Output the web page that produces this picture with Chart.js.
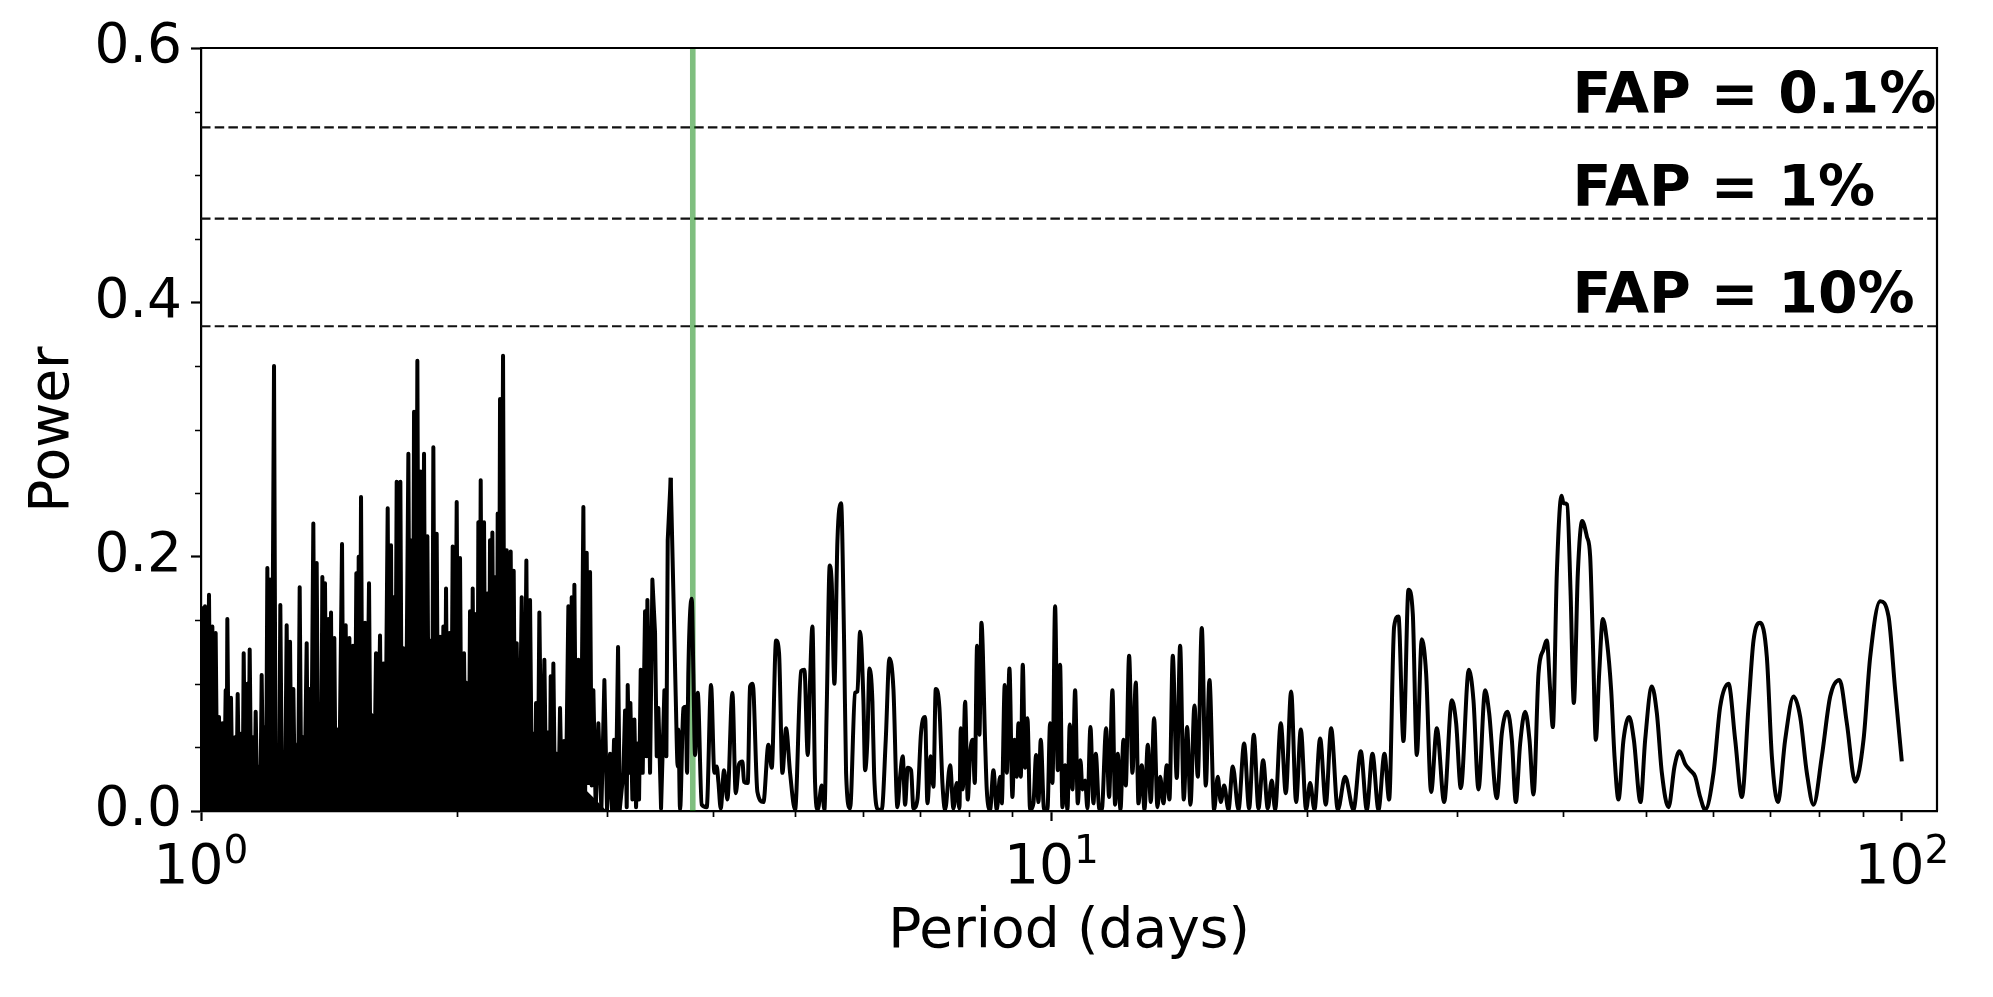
<!DOCTYPE html>
<html>
<head>
<meta charset="utf-8">
<title>Periodogram</title>
<script src="https://cdn.jsdelivr.net/npm/chart.js@4.4.0/dist/chart.umd.min.js"></script>
<style>
  html, body { margin: 0; padding: 0; background: #fff; }
  #wrap { width: 1993px; height: 997px; position: relative; }
</style>
</head>
<body>
<div id="wrap"><canvas id="periodogram"></canvas></div>
<script>
// periodogram, one segment per stretch of the period axis
// period in days, power unitless
const periodA = [
  1.0000, 1.0054, 1.0109, 1.0164, 1.0219, 1.0265, 1.0312, 1.0358, 1.0405, 1.0452,
  1.0499, 1.0547, 1.0595, 1.0643, 1.0691, 1.0720, 1.0739, 1.0788, 1.0846, 1.0895,
  1.0964, 1.1004, 1.1044, 1.1094, 1.1164, 1.1194, 1.1225, 1.1276, 1.1337, 1.1368,
  1.1409, 1.1460, 1.1523, 1.1554, 1.1596, 1.1648, 1.1711, 1.1743, 1.1785, 1.1839,
  1.1892, 1.1925, 1.1968, 1.2011, 1.2054, 1.2109, 1.2186, 1.2241, 1.2307, 1.2352,
  1.2396, 1.2453, 1.2509, 1.2554, 1.2611, 1.2668, 1.2726, 1.2783, 1.2841, 1.2899,
  1.2957, 1.3004, 1.3063, 1.3122, 1.3181, 1.3229, 1.3313, 1.3361, 1.3409, 1.3470,
  1.3555, 1.3617, 1.3678, 1.3740, 1.3802, 1.3840, 1.3890, 1.3953, 1.3990, 1.4054,
  1.4117, 1.4168, 1.4220, 1.4271, 1.4348, 1.4400, 1.4479, 1.4531, 1.4650, 1.4716,
  1.4796, 1.4863, 1.4944, 1.5011, 1.5092, 1.5161, 1.5229, 1.5271, 1.5326, 1.5368,
  1.5423, 1.5493, 1.5591, 1.5648, 1.5761, 1.5832, 1.5904, 1.5976, 1.6062, 1.6121,
  1.6237, 1.6311, 1.6385, 1.6459, 1.6578, 1.6653, 1.6728, 1.6789, 1.6834, 1.6910,
  1.6987, 1.7064, 1.7157, 1.7234, 1.7297, 1.7375, 1.7454, 1.7533, 1.7612, 1.7692,
  1.7740, 1.7804, 1.7885
];
const powerA = [
  0.161, 0.001, 0.161, 0.003, 0.170, 0.003, 0.145, 0.002, 0.140, 0.001,
  0.074, 0.001, 0.069, 0.001, 0.095, 0.030, 0.151, 0.001, 0.089, 0.001,
  0.058, 0.001, 0.092, 0.001, 0.061, 0.001, 0.124, 0.001, 0.100, 0.001,
  0.127, 0.001, 0.058, 0.001, 0.078, 0.001, 0.035, 0.001, 0.107, 0.001,
  0.066, 0.001, 0.191, 0.009, 0.182, 0.001, 0.350, 0.001, 0.032, 0.001,
  0.162, 0.001, 0.032, 0.001, 0.146, 0.003, 0.133, 0.001, 0.096, 0.001,
  0.022, 0.001, 0.176, 0.001, 0.058, 0.001, 0.132, 0.001, 0.096, 0.001,
  0.226, 0.001, 0.195, 0.001, 0.082, 0.001, 0.184, 0.001, 0.179, 0.001,
  0.151, 0.001, 0.156, 0.001, 0.136, 0.001, 0.043, 0.001, 0.210, 0.001,
  0.146, 0.001, 0.136, 0.001, 0.130, 0.001, 0.187, 0.001, 0.200, 0.009,
  0.247, 0.001, 0.148, 0.001, 0.179, 0.001, 0.075, 0.001, 0.124, 0.001,
  0.138, 0.001, 0.116, 0.001, 0.238, 0.001, 0.209, 0.001, 0.168, 0.001,
  0.259, 0.001, 0.259, 0.001, 0.128, 0.001, 0.120, 0.281, 0.001, 0.213,
  0.001, 0.314, 0.001
];

const periodB = [
  1.7965, 1.8046, 1.8128, 1.8193, 1.8292, 1.8375, 1.8458, 1.8541, 1.8642, 1.8693,
  1.8760, 1.8845, 1.8930, 1.9016, 1.9102, 1.9171, 1.9275, 1.9345, 1.9415, 1.9503,
  1.9591, 1.9679, 1.9768, 1.9876, 1.9984, 2.0074, 2.0165, 2.0256, 2.0385, 2.0477,
  2.0588, 2.0644, 2.0718, 2.0793, 2.0869, 2.0963, 2.1058, 2.1134, 2.1191, 2.1249,
  2.1326, 2.1422, 2.1519, 2.1616, 2.1714, 2.1793, 2.1871, 2.1951, 2.2010, 2.2110,
  2.2210, 2.2270, 2.2330, 2.2391, 2.2472, 2.2553, 2.2655, 2.2758, 2.2881, 2.3005,
  2.3130, 2.3235, 2.3319, 2.3424, 2.3509, 2.3658, 2.3830, 2.3981, 2.4133, 2.4242,
  2.4374, 2.4506, 2.4639, 2.4706, 2.4773, 2.4885, 2.4997, 2.5156, 2.5338, 2.5476,
  2.5614, 2.5707, 2.5777, 2.5870, 2.5963, 2.6081, 2.6199, 2.6317, 2.6436, 2.6580,
  2.6724, 2.6845, 2.7040, 2.7162, 2.7285, 2.7384, 2.7483, 2.7632, 2.7782, 2.7958,
  2.8161, 2.8288, 2.8416, 2.8545, 2.8674, 2.8804, 2.8934, 2.9117, 2.9328, 2.9568,
  2.9809, 3.0025, 3.0270, 3.0434, 3.0599, 3.0738, 3.0933, 3.1072, 3.1382
];
const powerB = [
  0.354, 0.001, 0.267, 0.001, 0.281, 0.001, 0.216, 0.001, 0.134, 0.001,
  0.286, 0.001, 0.218, 0.001, 0.137, 0.001, 0.145, 0.001, 0.175, 0.001,
  0.140, 0.001, 0.208, 0.001, 0.243, 0.001, 0.199, 0.001, 0.124, 0.001,
  0.095, 0.001, 0.157, 0.001, 0.175, 0.001, 0.155, 0.001, 0.227, 0.001,
  0.260, 0.001, 0.227, 0.001, 0.171, 0.001, 0.213, 0.001, 0.219, 0.001,
  0.184, 0.001, 0.234, 0.001, 0.324, 0.035, 0.358, 0.001, 0.205, 0.001,
  0.204, 0.001, 0.189, 0.001, 0.132, 0.001, 0.168, 0.001, 0.197, 0.001,
  0.166, 0.001, 0.061, 0.001, 0.085, 0.001, 0.156, 0.001, 0.119, 0.001,
  0.062, 0.001, 0.106, 0.001, 0.116, 0.001, 0.045, 0.001, 0.081, 0.001,
  0.055, 0.001, 0.161, 0.001, 0.168, 0.001, 0.178, 0.001, 0.119, 0.001,
  0.239, 0.001, 0.203, 0.022, 0.188, 0.020, 0.095, 0.001, 0.069, 0.001,
  0.103, 0.001, 0.045, 0.001, 0.056, 0.001, 0.129, 0.001, 0.030
];

const periodC = [
  3.1525, 3.1667, 3.1753, 3.1897, 3.1983, 3.2157, 3.2331, 3.2478, 3.2595, 3.2743,
  3.2891, 3.3069, 3.3279, 3.3399, 3.3490, 3.3733, 3.3946, 3.4192, 3.4347, 3.4502,
  3.4753, 3.5068, 3.5258, 3.5386, 3.5674, 3.5933, 3.6161, 3.6357, 3.6423, 3.6587,
  3.6919, 3.7153, 3.7287, 3.7422, 3.7762, 3.7932, 3.8104, 3.8380, 3.8798, 3.9327,
  3.9791, 4.0152, 4.0406, 4.0589, 4.0846, 4.1217, 4.1591, 4.2158, 4.2540, 4.2926,
  4.3315, 4.3511, 4.3945, 4.4224, 4.4544, 4.5111, 4.5850, 4.6475, 4.6896, 4.7450,
  4.7837, 4.8271, 4.8752, 4.9283, 4.9955, 5.0773, 5.1234, 5.1698, 5.2026, 5.2356,
  5.2735, 5.3117, 5.3696, 5.4085, 5.4428, 5.4872, 5.5169, 5.5569, 5.6022, 5.6582
];
const powerC = [
  0.079, 0.003, 0.099, 0.030, 0.085, 0.009, 0.072, 0.003, 0.053, 0.009,
  0.111, 0.030, 0.157, 0.043, 0.166, 0.030, 0.182, 0.140, 0.043, 0.081,
  0.002, 0.095, 0.043, 0.213, 0.262, 0.171, 0.090, 0.035, 0.064, 0.001,
  0.081, 0.082, 0.030, 0.111, 0.167, 0.108, 0.044, 0.093, 0.005, 0.003,
  0.099, 0.030, 0.035, 0.023, 0.002, 0.032, 0.009, 0.093, 0.014, 0.037,
  0.039, 0.023, 0.022, 0.098, 0.100, 0.015, 0.007, 0.052, 0.034, 0.134,
  0.124, 0.030, 0.065, 0.030, 0.001, 0.110, 0.111, 0.044, 0.103, 0.145,
  0.022, 0.001, 0.020, 0.001, 0.082, 0.193, 0.179, 0.100, 0.212, 0.242
];

const periodD = [
  5.7044, 5.7353, 5.7978, 5.8768, 5.9141, 5.9569, 6.0110, 6.0381, 6.0764, 6.1094,
  6.1593, 6.1871, 6.2602, 6.3169, 6.3857, 6.4494, 6.5197, 6.5907, 6.6385, 6.6866,
  6.7289, 6.7777, 6.8392, 6.8825, 6.9574, 7.0269, 7.1034, 7.1484, 7.2132, 7.2655,
  7.3116, 7.3845, 7.4448, 7.4987, 7.6010, 7.6699, 7.7394, 7.7955, 7.8237, 7.8662,
  7.9161, 7.9735, 8.0240, 8.0822, 8.1260, 8.1775, 8.2294, 8.2740, 8.3566, 8.3944,
  8.4705, 8.5473, 8.6248, 8.7030, 8.7424, 8.8137, 8.8615, 8.9257, 8.9985, 9.0474,
  9.1048, 9.1460, 9.2039, 9.2539, 9.3126, 9.3716, 9.4395, 9.5251, 9.5942, 9.6550,
  9.7162, 9.8043, 9.8932, 9.9649, 10.028, 10.101
];
const powerD = [
  0.134, 0.030, 0.002, 0.093, 0.094, 0.141, 0.087, 0.032, 0.056, 0.112,
  0.086, 0.030, 0.001, 0.001, 0.056, 0.120, 0.096, 0.003, 0.027, 0.043,
  0.005, 0.034, 0.032, 0.002, 0.009, 0.062, 0.074, 0.006, 0.043, 0.019,
  0.096, 0.081, 0.022, 0.001, 0.036, 0.002, 0.022, 0.002, 0.065, 0.017,
  0.086, 0.009, 0.045, 0.056, 0.022, 0.130, 0.060, 0.148, 0.055, 0.017,
  0.001, 0.032, 0.001, 0.027, 0.006, 0.099, 0.030, 0.112, 0.011, 0.056,
  0.027, 0.069, 0.027, 0.115, 0.034, 0.073, 0.001, 0.006, 0.044, 0.007,
  0.056, 0.001, 0.001, 0.069, 0.022, 0.161
];

const periodE = [
  10.174, 10.238, 10.303, 10.378, 10.444, 10.510, 10.586, 10.663, 10.740, 10.818,
  10.877, 10.956, 11.025, 11.115, 11.206, 11.277, 11.379, 11.461, 11.597, 11.691,
  11.797, 11.883, 11.969, 12.056, 12.154, 12.231, 12.342, 12.454, 12.567, 12.658,
  12.773, 12.865, 12.982, 13.088, 13.206, 13.326, 13.423, 13.544, 13.667, 13.766,
  13.891, 14.042, 14.170, 14.311, 14.441, 14.572, 14.731, 14.864, 15.026, 15.190,
  15.341, 15.536, 15.691, 15.819, 15.963, 16.151, 16.342, 16.595, 16.851, 17.081,
  17.298, 17.518, 17.741, 17.966, 18.162
];
const powerE = [
  0.032, 0.115, 0.003, 0.036, 0.001, 0.068, 0.017, 0.095, 0.006, 0.040,
  0.017, 0.024, 0.002, 0.066, 0.006, 0.045, 0.002, 0.001, 0.065, 0.011,
  0.095, 0.005, 0.045, 0.001, 0.056, 0.020, 0.122, 0.030, 0.101, 0.006,
  0.036, 0.001, 0.052, 0.007, 0.073, 0.003, 0.027, 0.006, 0.036, 0.009,
  0.122, 0.026, 0.130, 0.009, 0.066, 0.005, 0.083, 0.027, 0.144, 0.020,
  0.103, 0.001, 0.027, 0.007, 0.020, 0.001, 0.035, 0.001, 0.053, 0.002,
  0.060, 0.002, 0.040, 0.002, 0.024
];

const periodF = [
  18.327, 18.610, 18.864, 19.138, 19.399, 19.646, 19.931, 20.148, 20.386, 20.701,
  21.022, 21.328, 21.716, 22.151, 22.657, 23.111, 23.490, 23.853, 24.244, 24.641,
  24.954, 25.295, 25.593, 25.942, 26.296, 26.606, 26.896, 27.262, 27.584, 27.960,
  28.393, 28.962, 29.570, 29.919, 30.299, 30.963, 31.356, 31.784, 32.363
];
const powerF = [
  0.001, 0.069, 0.014, 0.094, 0.007, 0.064, 0.001, 0.022, 0.001, 0.057,
  0.005, 0.065, 0.001, 0.027, 0.001, 0.047, 0.001, 0.045, 0.001, 0.045,
  0.009, 0.145, 0.153, 0.055, 0.174, 0.155, 0.044, 0.135, 0.108, 0.015,
  0.065, 0.007, 0.087, 0.069, 0.018, 0.111, 0.087, 0.017, 0.095
];

const periodG = [
  32.716, 33.403, 33.858, 34.382, 34.788, 35.166, 35.581, 36.067, 36.492, 36.890,
  37.393, 37.902, 38.246, 38.593, 38.873, 39.296, 39.796, 40.012, 40.411, 40.777,
  41.147, 41.595, 42.086, 42.621, 43.008, 43.320, 43.673, 44.069, 44.509, 44.994,
  45.524, 45.937, 46.437, 47.070, 47.798, 48.406, 49.288, 49.915, 50.824, 51.517,
  52.219, 53.171, 54.041, 54.778, 55.625, 56.383, 57.152, 57.931, 58.720
];
const powerG = [
  0.077, 0.010, 0.061, 0.078, 0.056, 0.007, 0.053, 0.078, 0.056, 0.013,
  0.108, 0.127, 0.134, 0.095, 0.066, 0.187, 0.248, 0.242, 0.241, 0.174,
  0.085, 0.187, 0.228, 0.216, 0.200, 0.134, 0.056, 0.108, 0.151, 0.134,
  0.095, 0.043, 0.009, 0.056, 0.074, 0.056, 0.007, 0.056, 0.098, 0.077,
  0.030, 0.003, 0.035, 0.047, 0.037, 0.032, 0.027, 0.011, 0.001
];

const periodH = [
  60.060, 61.154, 62.550, 63.689, 64.850, 66.031, 66.931, 68.150, 69.392, 70.338,
  71.490, 72.924, 74.588, 75.947, 77.330, 78.739, 80.536, 82.374, 84.482, 86.177,
  88.144, 90.155, 91.797, 94.318, 96.470, 98.227, 100.00
];
const powerH = [
  0.030, 0.082, 0.100, 0.056, 0.011, 0.082, 0.134, 0.148, 0.121, 0.043,
  0.007, 0.056, 0.090, 0.074, 0.030, 0.005, 0.043, 0.090, 0.103, 0.069,
  0.023, 0.056, 0.121, 0.165, 0.153, 0.095, 0.039
];

// height up to which the short-period forest prints as solid black
const floorPeriod = [
  1.000, 1.030, 1.050, 1.080, 1.120, 1.160, 1.200, 1.250, 1.300, 1.350,
  1.400, 1.450, 1.500, 1.550, 1.600, 1.650, 1.700, 1.750, 1.800, 1.900,
  2.000, 2.100, 2.200, 2.300, 2.400, 2.500, 2.600, 2.700, 2.800, 2.900,
  3.000
];
const floorPower = [
  0.050, 0.045, 0.030, 0.040, 0.040, 0.030, 0.050, 0.040, 0.055, 0.065,
  0.075, 0.065, 0.080, 0.085, 0.075, 0.090, 0.100, 0.105, 0.110, 0.100,
  0.105, 0.100, 0.095, 0.085, 0.060, 0.040, 0.030, 0.030, 0.020, 0.010,
  0.000
];

// false alarm probability levels and their labels
const fapLevels = [0.5376, 0.4659, 0.3812];
const fapLabels = ['FAP = 0.1%', 'FAP = 1%', 'FAP = 10%'];
const fapLabelY = [0.549, 0.476, 0.392];
const fapLabelX = 41;

// period marked with the green line
const markedPeriod = 3.787;

// axes
const xRange = [1, 110];
const yRange = [0, 0.6];
const xMajorTicks = [1, 10, 100];
const xMinorTicks = [2, 3, 4, 5, 6, 7, 8, 9, 20, 30, 40, 50, 60, 70, 80, 90];
const yMajorTicks = [0, 0.2, 0.4, 0.6];
const yMinorTicks = [0.05, 0.1, 0.15, 0.25, 0.3, 0.35, 0.45, 0.5, 0.55];

const FONT = 'DejaVu Sans';
const plotBox = { left: 201, right: 1937, top: 48, bottom: 811 };
const canvasSize = { width: 1993, height: 997 };

const periods = [].concat(periodA, periodB, periodC, periodD, periodE, periodF, periodG, periodH);
const powers = [].concat(powerA, powerB, powerC, powerD, powerE, powerF, powerG, powerH);
const spectrum = periods.map((p, i) => ({ x: p, y: powers[i] }));
const floor = floorPeriod.map((p, i) => ({ x: p, y: floorPower[i] }));

// the short-period forest is drawn with straight segments, the rest smoothed
const denseUntil = 3.54;
const splitAt = periods.findIndex(p => p >= denseUntil);
const spectrumDense = spectrum.slice(0, splitAt + 1);
const spectrumSmooth = spectrum.slice(splitAt);

// spines on top/right, minor ticks, 10^n labels and FAP annotations
const decorations = {
    id: 'decorations',
    afterDraw(chart) {
        const { ctx, chartArea: a, scales: { x, y } } = chart;
        ctx.save();
        ctx.strokeStyle = '#000';
        ctx.lineWidth = 2.2;
        ctx.beginPath();
        ctx.moveTo(a.left, a.top);
        ctx.lineTo(a.right, a.top);
        ctx.lineTo(a.right, a.bottom);
        ctx.stroke();

        ctx.lineWidth = 1.7;
        ctx.beginPath();
        xMinorTicks.forEach(v => {
            const px = Math.round(x.getPixelForValue(v)) + 0.5;
            ctx.moveTo(px, a.bottom);
            ctx.lineTo(px, a.bottom + 6);
        });
        yMinorTicks.forEach(v => {
            const py = Math.round(y.getPixelForValue(v)) + 0.5;
            ctx.moveTo(a.left, py);
            ctx.lineTo(a.left - 6, py);
        });
        ctx.stroke();

        ctx.fillStyle = '#000';
        ctx.textAlign = 'left';
        ctx.textBaseline = 'alphabetic';
        xMajorTicks.forEach(v => {
            const base = '10';
            const expo = String(Math.round(Math.log10(v)));
            ctx.font = '55px "' + FONT + '"';
            const wb = ctx.measureText(base).width;
            ctx.font = '39px "' + FONT + '"';
            const we = ctx.measureText(expo).width;
            const x0 = x.getPixelForValue(v) - (wb + we) / 2;
            ctx.font = '55px "' + FONT + '"';
            ctx.fillText(base, x0, a.bottom + 72);
            ctx.font = '39px "' + FONT + '"';
            ctx.fillText(expo, x0 + wb, a.bottom + 52);
        });

        ctx.font = 'bold 57px "' + FONT + '"';
        fapLabels.forEach((t, i) => {
            ctx.fillText(t, x.getPixelForValue(fapLabelX), y.getPixelForValue(fapLabelY[i]));
        });
        ctx.restore();
    }
};

const datasets = [{
    data: spectrumDense,
    borderColor: '#000',
    borderWidth: 4,
    pointRadius: 0,
    tension: 0,
    borderJoinStyle: 'round',
    order: 0
}, {
    data: spectrumSmooth,
    borderColor: '#000',
    borderWidth: 4,
    pointRadius: 0,
    cubicInterpolationMode: 'monotone',
    order: 0
}, {
    data: floor,
    borderWidth: 0,
    borderColor: 'rgba(0,0,0,0)',
    backgroundColor: '#000',
    fill: 'origin',
    pointRadius: 0,
    tension: 0,
    order: 1
}, {
    data: [{ x: markedPeriod, y: yRange[0] }, { x: markedPeriod, y: yRange[1] }],
    borderColor: 'rgba(0, 128, 0, 0.5)',
    borderWidth: 5.6,
    pointRadius: 0,
    order: 2
}];
fapLevels.forEach(level => {
    datasets.push({
        data: [{ x: xRange[0], y: level }, { x: xRange[1], y: level }],
        borderColor: '#111',
        borderWidth: 2.2,
        borderDash: [9.5, 4.2],
        pointRadius: 0,
        order: 3
    });
});

Chart.defaults.font.family = FONT;
Chart.defaults.color = '#000';

new Chart(document.getElementById('periodogram'), {
    type: 'line',
    data: { datasets: datasets },
    plugins: [decorations],
    options: {
        responsive: true,
        maintainAspectRatio: false,
        animation: false,
        devicePixelRatio: 1,
        layout: {
            padding: {
                left: 0,
                right: canvasSize.width - plotBox.right,
                top: plotBox.top,
                bottom: 0
            }
        },
        plugins: {
            legend: { display: false },
            tooltip: { enabled: false }
        },
        scales: {
            x: {
                type: 'logarithmic',
                min: xRange[0],
                max: xRange[1],
                afterBuildTicks: axis => { axis.ticks = xMajorTicks.map(v => ({ value: v })); },
                afterFit: axis => { axis.height = canvasSize.height - plotBox.bottom; },
                ticks: { display: false },
                grid: { drawOnChartArea: false, drawTicks: true, tickLength: 10, tickWidth: 2.2, tickColor: '#000' },
                border: { display: true, color: '#000', width: 2.2 },
                title: {
                    display: true,
                    text: 'Period (days)',
                    font: { family: FONT, size: 55 },
                    color: '#000',
                    padding: { top: 0, bottom: 31 }
                }
            },
            y: {
                type: 'linear',
                min: yRange[0],
                max: yRange[1],
                afterBuildTicks: axis => { axis.ticks = yMajorTicks.map(v => ({ value: v })); },
                afterFit: axis => { axis.width = plotBox.left; },
                ticks: {
                    callback: v => v.toFixed(1),
                    font: { family: FONT, size: 55 },
                    color: '#000',
                    padding: 9
                },
                grid: { drawOnChartArea: false, drawTicks: true, tickLength: 10, tickWidth: 2.2, tickColor: '#000' },
                border: { display: true, color: '#000', width: 2.2 },
                title: {
                    display: true,
                    text: 'Power',
                    font: { family: FONT, size: 55 },
                    color: '#000',
                    padding: { top: 21, bottom: 0 }
                }
            }
        }
    }
});
</script>
</body>
</html>
